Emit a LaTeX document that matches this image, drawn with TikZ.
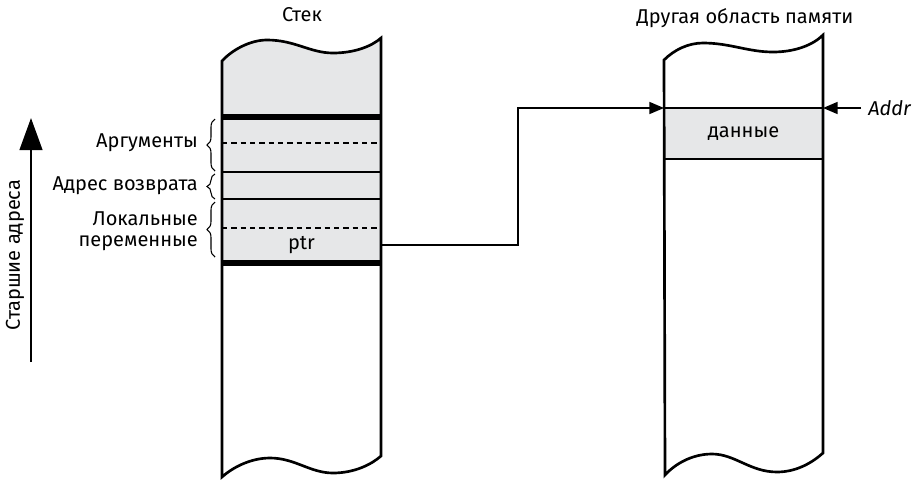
\documentclass[tikz,border=0pt]{standalone}
\usepackage{fontspec}
\setmainfont{Fira Sans}
\usetikzlibrary{decorations.pathreplacing,arrows.meta}
\definecolor{cellgray}{HTML}{E6E7E8}
\tikzset{
    box/.style={line width=2pt},
    sep/.style={line width=1.5pt},
    thicksep/.style={line width=4pt},
    dotsep/.style={line width=1.5pt, dash pattern=on 4pt off 3pt},
    brc/.style={decorate, decoration={brace, amplitude=6pt}, line width=0.8pt},
    lbl/.style={anchor=east, align=right, inner sep=0pt},
    link/.style={line width=1.2pt, -{Triangle[length=11pt, width=9pt]}}
}
\begin{document}
\begin{tikzpicture}[x=0.75pt, y=-0.75pt, font=\fontsize{15}{15.5}\selectfont]
    \useasboundingbox (0,0) rectangle (918,479);

    % stack
    \fill[cellgray] (222,61) .. controls (232,50) and (250,40) .. (267,40)
        .. controls (295,40) and (310,53) .. (333,53)
        .. controls (355,53) and (372,46) .. (381,38) -- (381,263) -- (222,263) -- cycle;
    \draw[box] (222,61) .. controls (232,50) and (250,40) .. (267,40)
        .. controls (295,40) and (310,53) .. (333,53)
        .. controls (355,53) and (372,46) .. (381,38) -- (381,456)
        .. controls (372,464) and (355,473) .. (333,473)
        .. controls (310,473) and (295,458) .. (270,458)
        .. controls (250,458) and (232,468) .. (222,477) -- cycle;
    \draw[thicksep] (222,117) -- (381,117);
    \draw[dotsep] (222,143) -- (381,143);
    \draw[sep] (222,172) -- (381,172);
    \draw[sep] (222,199) -- (381,199);
    \draw[dotsep] (222,228) -- (381,228);
    \draw[thicksep] (222,263) -- (381,263);
    \node[minimum width=159*0.75pt, minimum height=33*0.75pt, inner sep=0pt] (ptr) at (301.5,245) {ptr};
    \node (stack) at (302,15) {Стек};

    % braces
    \draw[brc] (215,171) -- (215,119);
    \draw[brc] (215,199) -- (215,174);
    \draw[brc] (215,257) -- (215,202);
    \node[lbl] (args) at (198,143) {Аргументы};
    \node[lbl] (ret) at (198,186) {Адрес возврата};
    \node[lbl] (locals) at (198,231) {Локальные\\переменные};

    % other memory
    \fill[cellgray] (664,108) rectangle (823,159);
    \draw[box] (664,60) .. controls (674,50) and (688,43) .. (703,43)
        .. controls (730,43) and (748,52) .. (773,52)
        .. controls (795,52) and (813,45) .. (823,35) -- (823,453)
        .. controls (813,462) and (797,472) .. (777,472)
        .. controls (750,472) and (735,454) .. (712,454)
        .. controls (692,454) and (675,464) .. (665,475) -- cycle;
    \draw[sep] (664,108) -- (823,108);
    \draw[sep] (664,159) -- (823,159);
    \node (data) at (743.5,133.5) {данные};
    \node (other) at (745,18) {Другая область памяти};
    \coordinate (dataL) at (664,108);
    \coordinate (dataR) at (823,108);
    \coordinate (bend) at (518,108);

    % pointers
    \draw[link] (ptr.east) -| (bend) -- (dataL);
    \node[anchor=west, inner sep=0pt] (addr) at (868,108) {\itshape Addr};
    \coordinate (addrTail) at (861,108);
    \draw[link] (addrTail) -- (dataR);

    % address direction
    \coordinate (lowA) at (31,362);
    \coordinate (highA) at (31,118);
    \draw[line width=1.6pt, -{Triangle[length=24pt, width=17pt]}] (lowA) -- (highA);
    \node[rotate=90] (older) at (15,255) {Старшие адреса};
\end{tikzpicture}
\end{document}
